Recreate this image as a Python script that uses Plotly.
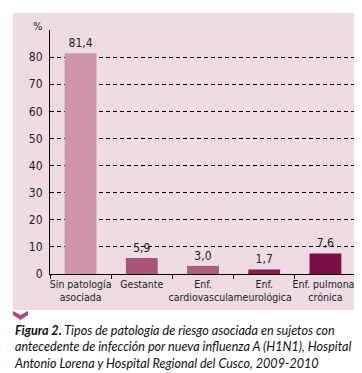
import plotly.graph_objects as go

categories = ["Sin patología<br>asociada", "Gestante", "Enf.<br>cardiovascular",
              "Enf.<br>neurológica", "Enf. pulmonar<br>crónica"]
values = [81.4, 5.9, 3.0, 1.7, 7.6]
bar_colors = ["#cf93ad", "#a65478", "#ab5f80", "#851f52", "#7b0f45"]
y_ticks = [0, 10, 20, 30, 40, 50, 60, 70, 80]
value_labels = [f"{v:.1f}".replace(".", ",") for v in values]

W, H = 362, 373
ML, MR, MT, MB = 42, 14, 22, 107
PW, PH = W - ML - MR, H - MT - MB

def px(x):
    return (x - ML) / PW

def py(y):
    return (H - MB - y) / PH

FONT = "DejaVu Sans Condensed, sans-serif"

fig = go.Figure()
fig.add_trace(go.Bar(
    x=categories, y=values, marker=dict(color=bar_colors, line=dict(width=0)),
    text=value_labels, textposition="outside", cliponaxis=False,
    textfont=dict(family=FONT, size=12, color="#222222"),
))

shapes = [
    dict(type="rect", xref="paper", yref="paper", x0=px(5), x1=px(356),
         y0=py(302), y1=py(5), fillcolor="#efdbe4", line=dict(width=0), layer="below"),
    dict(type="path", xref="paper", yref="paper",
         path=f"M {px(5)} {py(303)} L {px(12.5)} {py(307)} L {px(20)} {py(303)} L {px(20)} {py(307)} L {px(12.5)} {py(312)} L {px(5)} {py(307)} Z",
         fillcolor="#a84a7c", line=dict(width=0)),
]

caption = ("<b><i>Figura 2.</i></b><i> Tipos de patología de riesgo asociada en sujetos con<br>"
           "antecedente de infección por nueva influenza A (H1N1), Hospital<br>"
           "Antonio Lorena y Hospital Regional del Cusco, 2009-2010</i>")

fig.update_layout(
    width=W, height=H,
    margin=dict(l=ML, r=MR, t=MT, b=MB),
    paper_bgcolor="white", plot_bgcolor="rgba(0,0,0,0)",
    showlegend=False, bargap=0.48,
    shapes=shapes,
    annotations=[
        dict(text="%", xref="paper", yref="paper", x=px(36), y=py(19), showarrow=False,
             xanchor="right", yanchor="middle", font=dict(family=FONT, size=11, color="#222222")),
        dict(text=caption, xref="paper", yref="paper", x=px(4), y=py(313), showarrow=False,
             xanchor="left", yanchor="top", align="left",
             font=dict(family="Lato, sans-serif", size=12.6, color="#111111")),
    ],
    xaxis=dict(showline=True, linecolor="black", linewidth=1, ticks="outside",
               tickson="boundaries", ticklen=4, tickcolor="black", tickangle=0,
               tickfont=dict(family=FONT, size=10.5, color="#222222"), showgrid=False),
    yaxis=dict(range=[0, 90], tickvals=y_ticks, showline=True, linecolor="black", linewidth=1,
               showgrid=True, gridcolor="black", griddash="4px,3px", gridwidth=1,
               zeroline=False, ticks="", ticklabelstandoff=4,
               tickfont=dict(family=FONT, size=12, color="#222222")),
)

fig.write_html("out.html")
